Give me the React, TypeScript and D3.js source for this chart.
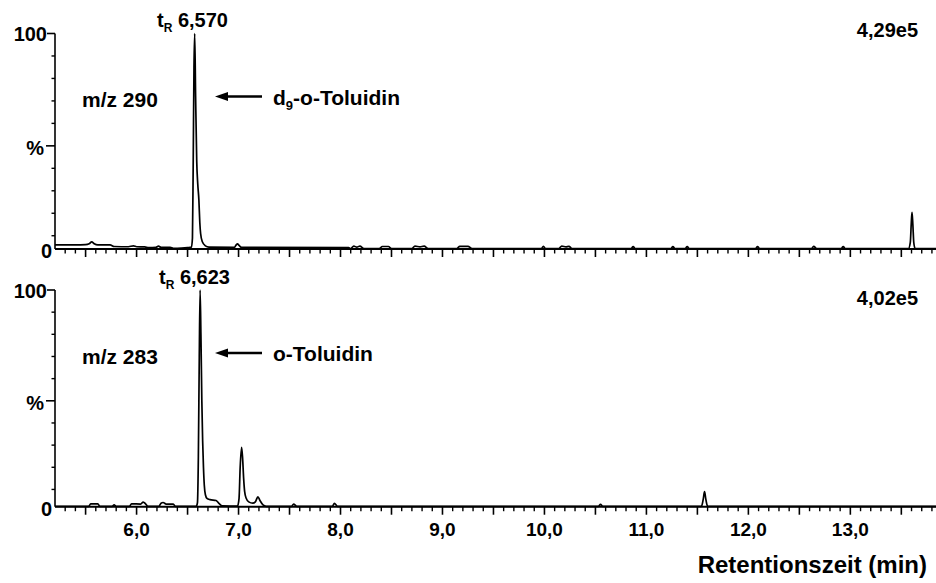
import React from "react";
import * as d3 from "d3";

const W = 936;
const H = 583;

// ---- axis data ----
const timeDomain = [5.2, 13.84];
const xLabelValues = [6, 7, 8, 9, 10, 11, 12, 13];
const xLabelTexts = ["6,0", "7,0", "8,0", "9,0", "10,0", "11,0", "12,0", "13,0"];
const yMinorValues = [10, 20, 30, 40, 60, 70, 80, 90];

// ---- trace m/z 290 (d9-o-Toluidin) ----
const topTime = [
  5.2, 5.4, 5.5, 5.535, 5.56, 5.585, 5.62, 5.74, 5.78, 5.92, 5.97, 6.0, 6.08, 6.12, 6.19, 6.215, 6.24,
  6.33, 6.36, 6.44, 6.5, 6.538, 6.548, 6.555, 6.563, 6.57, 6.579, 6.59, 6.6, 6.611, 6.62, 6.628, 6.645,
  6.675, 6.71, 6.96, 6.975, 6.99, 7.005, 7.03, 8.08, 8.1, 8.13, 8.16, 8.19, 8.23, 8.38, 8.41, 8.47, 8.5,
  8.7, 8.73, 8.78, 8.82, 8.86, 9.14, 9.17, 9.25, 9.29, 9.97, 9.99, 10.01, 10.14, 10.17, 10.21, 10.24,
  10.27, 10.85, 10.87, 10.89, 11.24, 11.26, 11.28, 11.38, 11.4, 11.42, 12.07, 12.09, 12.11, 12.62,
  12.64, 12.67, 12.91, 12.93, 12.95, 13.57, 13.588, 13.598, 13.605, 13.613, 13.622, 13.635, 13.84,
];
const topIntensity = [
  5.9, 5.9, 6.0, 6.4, 7.3, 6.4, 5.9, 5.9, 5.2, 5.1, 5.5, 5.1, 5.0, 4.7, 4.8, 5.4, 4.8,
  4.8, 4.4, 4.5, 4.7, 4.9, 9, 40, 85, 100, 72, 43, 33, 26, 16, 11, 7.3,
  5.5, 4.9, 4.8, 5.8, 6.4, 5.7, 4.8, 4.7, 4.3, 5.4, 4.9, 5.4, 4.3, 4.3, 5.2, 5.2, 4.3,
  4.3, 5.4, 5.0, 5.4, 4.3, 4.3, 5.3, 5.3, 4.3, 4.3, 5.3, 4.3, 4.3, 5.4, 5.0, 5.3,
  4.3, 4.3, 5.2, 4.3, 4.3, 5.2, 4.3, 4.3, 5.2, 4.3, 4.3, 5.2, 4.3, 4.3,
  5.3, 4.3, 4.3, 5.2, 4.3, 4.3, 7, 16, 20.4, 15, 7, 4.3, 4.3,
];

// ---- trace m/z 283 (o-Toluidin) ----
const bottomTime = [
  5.2, 5.53, 5.55, 5.62, 5.64, 5.76, 5.78, 5.8, 5.93, 5.95, 6.04, 6.065, 6.09, 6.11, 6.22, 6.24, 6.26,
  6.29, 6.36, 6.38, 6.585, 6.597, 6.606, 6.615, 6.623, 6.631, 6.64, 6.648, 6.656, 6.664, 6.675, 6.69,
  6.72, 6.78, 6.81, 6.84, 6.99, 7.005, 7.016, 7.03, 7.04, 7.05, 7.06, 7.075, 7.1, 7.14, 7.165, 7.19,
  7.21, 7.24, 7.27, 7.52, 7.54, 7.57, 7.92, 7.94, 7.97, 10.53, 10.55, 10.57, 11.54, 11.557, 11.57,
  11.583, 11.6, 13.84,
];
const bottomIntensity = [
  2.4, 2.4, 3.5, 3.5, 2.4, 2.4, 3.0, 2.4, 2.4, 3.5, 3.4, 4.3, 3.4, 2.4, 2.4, 3.8, 4.1,
  3.4, 3.4, 2.4, 2.4, 4, 25, 70, 100, 80, 50, 32, 20, 12, 7.6, 6.0,
  5.4, 5.0, 3.6, 2.6, 2.5, 6, 20, 29, 24, 15, 9, 6, 4.4, 3.8, 4.4, 6.7,
  5.0, 3.0, 2.4, 2.4, 3.4, 2.4, 2.4, 3.7, 2.4, 2.4, 3.3, 2.4, 2.4, 5.5, 9,
  5.5, 2.4, 2.4,
];

// ---- annotations ----
const panelIons = ["m/z 290", "m/z 283"];
const panelRetention = ["6,570", "6,623"];
const panelMax = ["4,29e5", "4,02e5"];
const panelCompoundMain = ["d", "o-Toluidin"];
const panelCompoundSub = ["9", ""];
const panelCompoundRest = ["-o-Toluidin", ""];
const axisTitle = "Retentionszeit (min)";

const FONT = "'Liberation Sans', Arial, Helvetica, sans-serif";

const x = d3.scaleLinear().domain(timeDomain).range([55, W]);
const majorTicks = d3.range(5.5, 13.84, 0.5).map((v) => +v.toFixed(2));
const minorTicks = d3
  .range(5.3, 13.84, 0.1)
  .map((v) => +v.toFixed(2))
  .filter((v) => Math.abs(v * 2 - Math.round(v * 2)) > 1e-6);

type Panel = {
  y: d3.ScaleLinear<number, number>;
  axisLevel: number;
  time: number[];
  intensity: number[];
  idx: number;
  showLabels: boolean;
};

const panels: Panel[] = [
  {
    y: d3.scaleLinear().domain([0, 100]).range([258.2, 33.5]),
    axisLevel: 4.1,
    time: topTime,
    intensity: topIntensity,
    idx: 0,
    showLabels: false,
  },
  {
    y: d3.scaleLinear().domain([0, 100]).range([511.6, 290]),
    axisLevel: 2.2,
    time: bottomTime,
    intensity: bottomIntensity,
    idx: 1,
    showLabels: true,
  },
];

function PanelView({ p }: { p: Panel }) {
  const y = p.y;
  const axisY = y(p.axisLevel);
  const top = y(100);
  const pts = p.time.map((t, i) => [t, p.intensity[i]] as [number, number]);
  const line = d3
    .line<[number, number]>()
    .x((d) => x(d[0]))
    .y((d) => y(d[1]))
    .curve(d3.curveMonotoneX);
  const i = p.idx;
  const fs = 20;
  const fsL = 21;
  return (
    <g>
      <path d={line(pts) || ""} fill="none" stroke="#000" strokeWidth={1.7} strokeLinejoin="round" />
      <line x1={55} x2={W} y1={axisY} y2={axisY} stroke="#000" strokeWidth={2} />
      {minorTicks.map((t) => (
        <line key={"mi" + t} x1={x(t)} x2={x(t)} y1={axisY} y2={axisY + 4.5} stroke="#000" strokeWidth={1.4} />
      ))}
      {majorTicks.map((t) => (
        <line key={"ma" + t} x1={x(t)} x2={x(t)} y1={axisY} y2={axisY + 8} stroke="#000" strokeWidth={1.6} />
      ))}
      {p.showLabels &&
        xLabelValues.map((t, k) => (
          <text key={"xl" + t} x={x(t)} y={axisY + 29} textAnchor="middle" fontSize={19} fontWeight="bold" fontFamily={FONT}>
            {xLabelTexts[k]}
          </text>
        ))}
      <line x1={55} x2={55} y1={top} y2={axisY} stroke="#000" strokeWidth={1.6} />
      {yMinorValues.map((v) => (
        <line key={"ym" + v} x1={51.5} x2={55} y1={y(v)} y2={y(v)} stroke="#000" strokeWidth={1.4} />
      ))}
      <line x1={46} x2={55} y1={y(50)} y2={y(50)} stroke="#000" strokeWidth={1.6} />
      <line x1={47} x2={55} y1={top} y2={top} stroke="#000" strokeWidth={1.6} />
      <text x={47} y={top + 7.5} textAnchor="end" fontSize={fs} fontWeight="bold" fontFamily={FONT}>100</text>
      <text x={44} y={y(50) + 9} textAnchor="end" fontSize={fs} fontWeight="bold" fontFamily={FONT}>%</text>
      <text x={52} y={axisY + 9.5} textAnchor="end" fontSize={fs} fontWeight="bold" fontFamily={FONT}>0</text>
      <text x={i === 0 ? 157 : 159} y={top - 6.5} fontSize={fs} fontWeight="bold" fontFamily={FONT}>
        t<tspan dy={5} fontSize={12}>R</tspan>
        <tspan dy={-5}>{" " + panelRetention[i]}</tspan>
      </text>
      <text x={918} y={top + (i === 0 ? 3.5 : 15)} textAnchor="end" fontSize={fs} fontWeight="bold" fontFamily={FONT}>
        {panelMax[i]}
      </text>
      <text x={82} y={top + 73.5} fontSize={fsL} fontWeight="bold" fontFamily={FONT}>{panelIons[i]}</text>
      <line x1={226} x2={262} y1={top + 63} y2={top + 63} stroke="#000" strokeWidth={2.6} />
      <path d={`M215,${top + 63} L228,${top + 58.5} L228,${top + 67.5} Z`} fill="#000" />
      <text x={273} y={top + 71} fontSize={fsL} fontWeight="bold" fontFamily={FONT}>
        {panelCompoundMain[i]}
        {panelCompoundSub[i] && (
          <>
            <tspan dy={5} fontSize={13}>{panelCompoundSub[i]}</tspan>
            <tspan dy={-5}>{panelCompoundRest[i]}</tspan>
          </>
        )}
      </text>
    </g>
  );
}

export default function App() {
  return (
    <div style={{ position: "absolute", left: 0, top: 0 }}>
      <svg width={W} height={H} viewBox={`0 0 ${W} ${H}`} style={{ display: "block", background: "#fff" }}>
        <rect x={0} y={0} width={W} height={H} fill="#fff" />
        {panels.map((p) => (
          <PanelView key={p.idx} p={p} />
        ))}
        <text x={927} y={573} textAnchor="end" fontSize={24} fontWeight="bold" fontFamily={FONT}>
          {axisTitle}
        </text>
      </svg>
    </div>
  );
}
